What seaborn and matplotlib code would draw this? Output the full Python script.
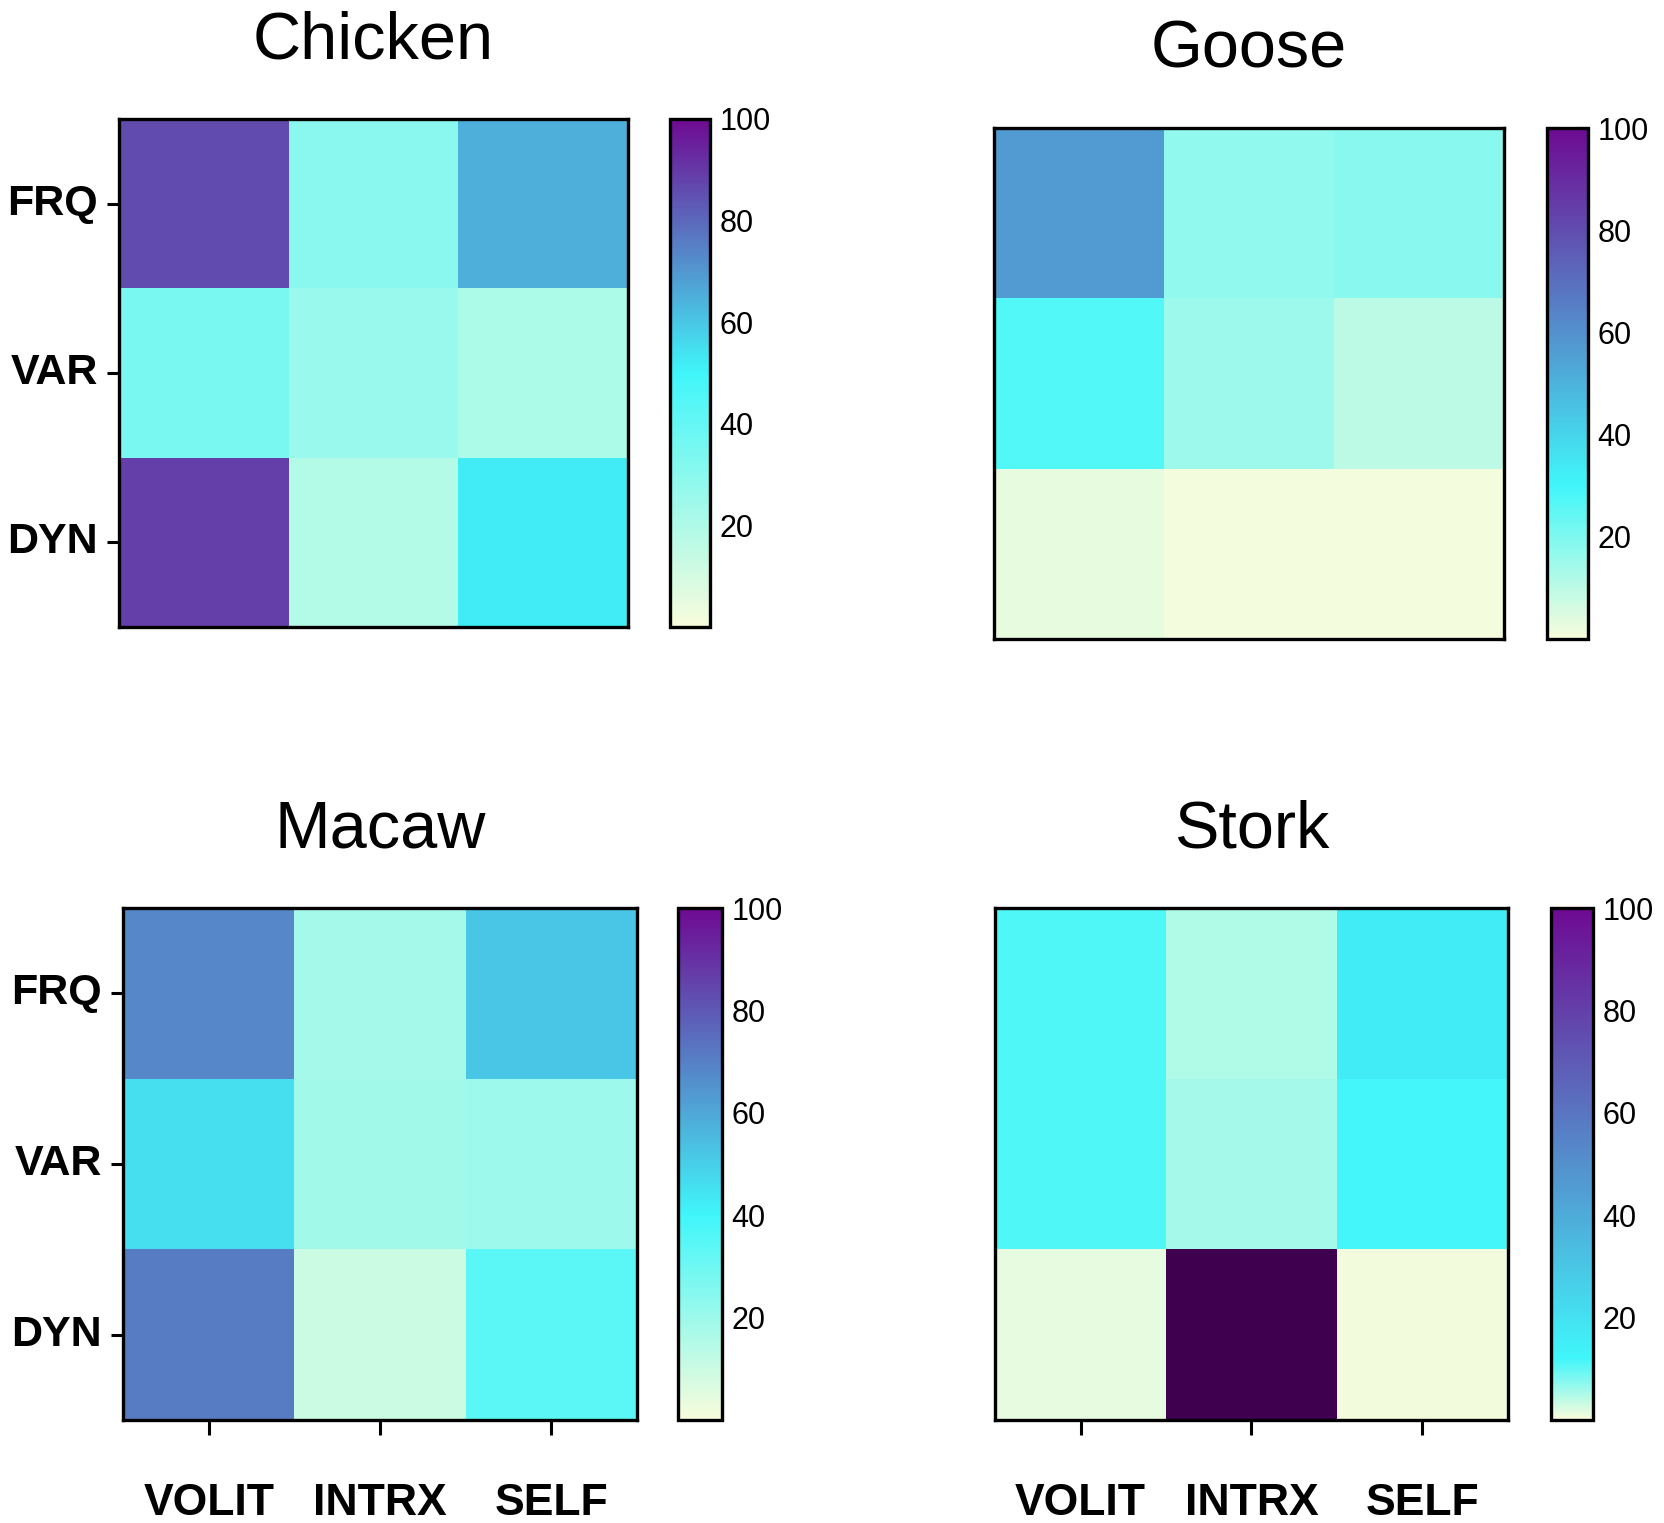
import numpy as np
import pandas as pd
import matplotlib
matplotlib.use('Agg')
import matplotlib.pyplot as plt
import seaborn as sns
from matplotlib.colors import LinearSegmentedColormap

sns.set_style('white')
plt.rcParams['font.family'] = ['Liberation Sans', 'DejaVu Sans']
plt.rcParams['text.color'] = 'black'
plt.rcParams['xtick.color'] = 'black'
plt.rcParams['ytick.color'] = 'black'

# значения по ячейкам (строки FRQ, VAR, DYN; столбцы VOLIT, INTRX, SELF)
rows = ['FRQ', 'VAR', 'DYN']
cols = ['VOLIT', 'INTRX', 'SELF']
chicken = [[86, 30, 65], [35, 26, 21], [89, 19, 52]]
goose = [[57, 17, 18], [27, 15, 10], [3, 1, 1]]
macaw = [[68, 18, 52], [46, 19, 20], [71, 10, 34]]
stork = [[11, 5, 16], [11, 5.5, 12], [1.5, 110, 0.5]]

# где в шкале находится циан (как в трёхцветной шкале Prism)
mid_points = {'Chicken': 50, 'Goose': 30, 'Macaw': 40, 'Stork': 12}
cbar_ticks = [20, 40, 60, 80, 100]

low_col = '#f8fcdc'
mid_col = '#40f6fa'
high_col = '#6e0a92'
over_col = '#400050'

panels = [
    ('Chicken', chicken, [0.0715, 0.5883, 0.3057, 0.3336], [0.4024, 0.5883, 0.0240, 0.3336], True, False),
    ('Goose', goose, [0.5970, 0.5804, 0.3063, 0.3355], [0.9290, 0.5804, 0.0246, 0.3355], False, False),
    ('Macaw', macaw, [0.0739, 0.0676, 0.3087, 0.3362], [0.4072, 0.0676, 0.0264, 0.3362], True, True),
    ('Stork', stork, [0.5976, 0.0676, 0.3081, 0.3362], [0.9315, 0.0676, 0.0252, 0.3362], False, True),
]

fig = plt.figure(figsize=(16.65, 15.23), dpi=100)

for name, vals, ax_pos, cb_pos, show_y, show_x in panels:
    df = pd.DataFrame(vals, index=rows, columns=cols)
    c = mid_points[name] / 100
    cmap = LinearSegmentedColormap.from_list(name, [(0, low_col), (c, mid_col), (1, high_col)])
    cmap.set_over(over_col)

    ax = fig.add_axes(ax_pos)
    cax = fig.add_axes(cb_pos)
    sns.heatmap(df, ax=ax, cbar_ax=cax, cmap=cmap, vmin=0, vmax=100,
                cbar_kws={'ticks': cbar_ticks, 'extend': 'neither'})

    for sp in ax.spines.values():
        sp.set_visible(True)
        sp.set_color('black')
        sp.set_linewidth(2.4)

    if show_y:
        ax.set_yticklabels(rows, rotation=0, fontsize=31, fontweight='bold')
        ax.tick_params(axis='y', left=True, length=9, width=2.2, pad=6)
    else:
        ax.set_yticks([])
    if show_x:
        ax.set_xticklabels(cols, rotation=0, fontsize=32, fontweight='bold')
        ax.tick_params(axis='x', bottom=True, length=11, width=2.2, pad=34)
    else:
        ax.set_xticks([])
    ax.set_xlabel('')
    ax.set_ylabel('')

    # цветовая шкала
    cb = ax.collections[0].colorbar
    cb.outline.set_visible(True)
    cb.outline.set_edgecolor('black')
    cb.outline.set_linewidth(2.4)
    cax.tick_params(axis='y', direction='in', left=True, right=True, length=7, width=2.2,
                    labelsize=22, pad=7)
    cax.set_yticklabels([str(t) for t in cbar_ticks])

    fig.text(ax_pos[0] + ax_pos[2] / 2, ax_pos[1] + ax_pos[3] + 0.051, name,
             ha='center', va='center', fontsize=48)

fig.savefig('out.png', dpi=100, facecolor='white')
